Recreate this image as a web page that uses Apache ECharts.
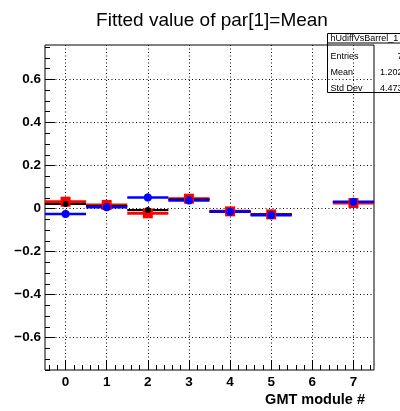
<!DOCTYPE html>
<html>
<head>
<meta charset="utf-8">
<script src="https://cdn.jsdelivr.net/npm/echarts@6/dist/echarts.min.js"></script>
<style>
  html, body { margin: 0; padding: 0; background: #fff; }
  #chart { width: 400px; height: 411px; }
</style>
</head>
<body>
<div id="chart"></div>
<script>
// GMT modules (bin centres), module 6 is empty
const modules = [0, 1, 2, 3, 4, 5, 7];
const redMean = [0.032, 0.017, -0.022, 0.046, -0.013, -0.027, 0.026];
const blackMean = [0.021, 0.012, -0.007, 0.042, -0.014, -0.028, 0.030];
const blueMean = [-0.025, 0.006, 0.052, 0.037, -0.015, -0.031, 0.032];
const blueErr = [0.016, 0.016, 0.018, 0.016, 0.014, 0.014, 0.016];
const statsRows = [['Entries', '7'], ['Mean', '1.202'], ['Std Dev', '4.473']];

const FONT = 'Liberation Sans, Arial, Helvetica, sans-serif';

// frame geometry in px
const L = 45, T = 45, W = 329, H = 325;
const xMin = -0.5, xMax = 7.5, yMin = -0.75, yMax = 0.76;
const px = W / (xMax - xMin);
const py = H / (yMax - yMin);
const xPix = v => L + (v - xMin) * px;
const yPix = v => T + (yMax - v) * py;

function toPts(vals) {
  return modules.map((m, i) => [m, vals[i]]);
}

function barSeries(name, vals, errs, color, lw) {
  return {
    name: name,
    type: 'custom',
    xAxisIndex: 0,
    yAxisIndex: 0,
    data: modules.map((m, i) => [m, vals[i], errs ? errs[i] : 0]),
    renderItem: function (params, api) {
      const x = api.value(0), y = api.value(1), e = api.value(2);
      const a = api.coord([x - 0.5, y]);
      const b = api.coord([x + 0.5, y]);
      const c = api.coord([x, y - e]);
      const d = api.coord([x, y + e]);
      return {
        type: 'group',
        children: [
          { type: 'line', shape: { x1: a[0], y1: a[1], x2: b[0], y2: b[1] }, style: { stroke: color, lineWidth: lw } },
          { type: 'line', shape: { x1: c[0], y1: c[1], x2: d[0], y2: d[1] }, style: { stroke: color, lineWidth: lw } }
        ]
      };
    },
    z: 3
  };
}

function markerSeries(vals, color, symbol, size) {
  return {
    type: 'scatter',
    xAxisIndex: 0,
    yAxisIndex: 0,
    data: toPts(vals),
    symbol: symbol,
    symbolSize: size,
    itemStyle: { color: color, opacity: 1 },
    z: 4
  };
}

const hidden = { show: false };

const chart = echarts.init(document.getElementById('chart'), null, { renderer: 'canvas' });
chart.setOption({
  animation: false,
  backgroundColor: '#fff',
  title: {
    text: 'Fitted value of par[1]=Mean',
    left: 207, top: 6, textAlign: 'center',
    textStyle: { fontFamily: FONT, fontSize: 19, fontWeight: 'normal', color: '#000' }
  },
  grid: [
    // 0: data + frame
    { left: L, top: T, width: W, height: H, show: true, borderColor: '#000', borderWidth: 1, backgroundColor: 'transparent', z: 1 },
    // 1: x minor ticks (-0.4 .. 7.4 every 0.2)
    { left: xPix(-0.4), top: T, width: xPix(7.4) - xPix(-0.4), height: H },
    // 2: x major ticks + labels + vertical grid
    { left: xPix(0), top: T, width: xPix(7) - xPix(0), height: H },
    // 3: y minor ticks (-0.75 .. 0.75 every 0.05)
    { left: L, top: yPix(0.75), width: W, height: yPix(-0.75) - yPix(0.75) },
    // 4: y major ticks + labels + horizontal grid
    { left: L, top: yPix(0.6), width: W, height: yPix(-0.6) - yPix(0.6) }
  ],
  xAxis: [
    { gridIndex: 0, type: 'value', min: xMin, max: xMax, show: false },
    { gridIndex: 1, type: 'value', min: -0.4, max: 7.4, interval: 0.2,
      axisLine: hidden, axisLabel: hidden, splitLine: hidden,
      axisTick: { inside: true, length: 5, lineStyle: { color: '#000' } } },
    { gridIndex: 2, type: 'value', min: 0, max: 7, interval: 1,
      axisLine: hidden,
      axisTick: { inside: true, length: 10, lineStyle: { color: '#000' } },
      axisLabel: { margin: 5, color: '#000', fontFamily: FONT, fontSize: 13.5, fontWeight: 'bold',
        formatter: v => String(v) },
      splitLine: { show: true, lineStyle: { type: [1, 2.5], color: '#000', width: 1 } } },
    { gridIndex: 3, type: 'value', min: 0, max: 1, show: false },
    { gridIndex: 4, type: 'value', min: 0, max: 1, show: false }
  ],
  yAxis: [
    { gridIndex: 0, type: 'value', min: yMin, max: yMax, show: false },
    { gridIndex: 1, type: 'value', min: 0, max: 1, show: false },
    { gridIndex: 2, type: 'value', min: 0, max: 1, show: false },
    { gridIndex: 3, type: 'value', min: -0.75, max: 0.75, interval: 0.05,
      axisLine: hidden, axisLabel: hidden, splitLine: hidden,
      axisTick: { inside: true, length: 5, lineStyle: { color: '#000' } } },
    { gridIndex: 4, type: 'value', min: -0.6, max: 0.6, interval: 0.2,
      axisLine: hidden,
      axisTick: { inside: true, length: 10, lineStyle: { color: '#000' } },
      axisLabel: { margin: 4, color: '#000', fontFamily: FONT, fontSize: 13.5, fontWeight: 'bold',
        formatter: v => {
          const r = Math.round(v * 10) / 10;
          return r === 0 ? '0' : String(r).replace('-', '\u2212');
        } },
      splitLine: { show: true, lineStyle: { type: [1, 2.5], color: '#000', width: 1 } } }
  ],
  series: [
    barSeries('red', redMean, null, '#ff0000', 3),
    markerSeries(redMean, '#ff0000', 'rect', 10),
    barSeries('black', blackMean, null, '#000000', 2),
    markerSeries(blackMean, '#000000', 'circle', 6),
    barSeries('blue', blueMean, blueErr, '#0000ff', 2.5),
    markerSeries(blueMean, '#0000ff', 'circle', 8)
  ],
  graphic: [
    { type: 'text', right: 35, top: 392,
      style: { text: 'GMT module #', fontFamily: FONT, fontSize: 14.5, fontWeight: 'bold', fill: '#000' } },
    { type: 'group', left: 325, top: 33, z: 100, children: [
      { type: 'rect', shape: { x: 0, y: 0, width: 90, height: 59 },
        style: { fill: '#fff', stroke: '#000', lineWidth: 1 } },
      { type: 'line', shape: { x1: 0, y1: 9.5, x2: 90, y2: 9.5 }, style: { stroke: '#000', lineWidth: 1 } },
      { type: 'text', x: 3, y: 5, style: { text: 'hUdiffVsBarrel_1', fontFamily: FONT, fontSize: 9, fill: '#000', verticalAlign: 'middle' } }
    ].concat(statsRows.flatMap((r, i) => [
      { type: 'text', x: 3, y: 23.5 + i * 16, style: { text: r[0], fontFamily: FONT, fontSize: 9, fill: '#000', verticalAlign: 'middle' } },
      { type: 'text', x: 75, y: 23.5 + i * 16, style: { text: r[1], fontFamily: FONT, fontSize: 9, fill: '#000', align: 'right', verticalAlign: 'middle' } }
    ])) }
  ]
});
</script>
</body>
</html>
